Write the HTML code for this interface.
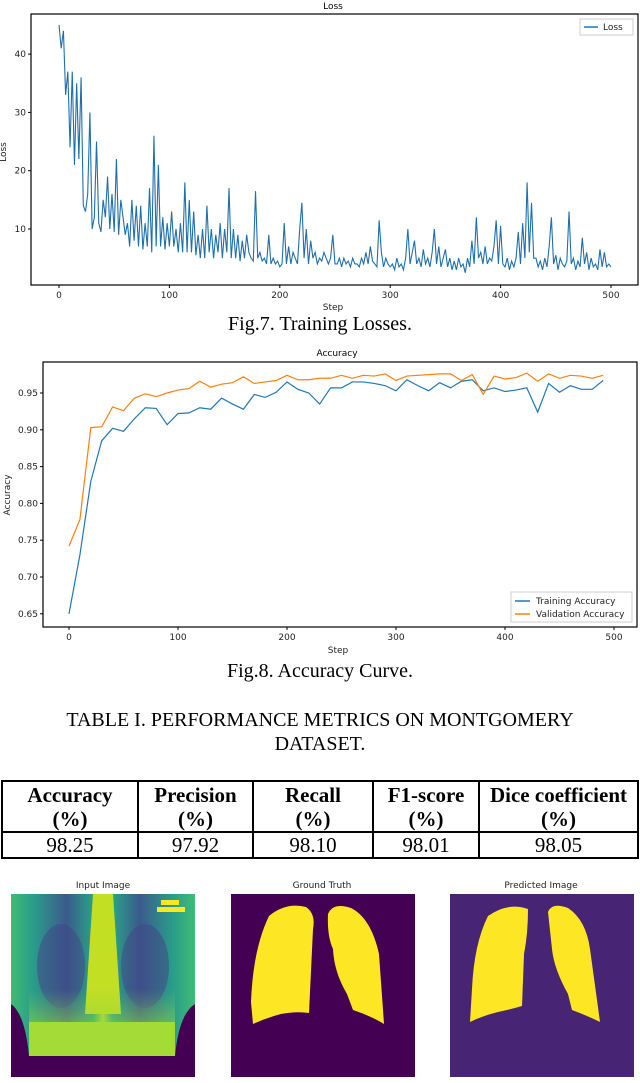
<!DOCTYPE html>
<html><head><meta charset="utf-8"><style>
body{margin:0;background:#fff;width:640px;height:1083px;overflow:hidden;position:relative;font-family:"DejaVu Sans","Liberation Sans",sans-serif}
.cap{position:absolute;left:0;width:640px;text-align:center;font-family:"Liberation Serif",serif;font-size:20px;color:#000}
table{position:absolute;left:1px;top:780px;width:638px;border-collapse:collapse;font-family:"Liberation Serif",serif;font-size:21px;text-align:center}
td,th{border:2px solid #000;padding:0;line-height:24px}
th{font-weight:bold}
.it{position:absolute;font-size:9px;color:#222;text-align:center;width:184px}
</style></head><body>
<svg id="loss" width="640" height="320" style="position:absolute;left:0;top:0"></svg>
<div class="cap" style="top:313px">Fig.7. Training Losses.</div>
<svg id="acc" width="640" height="320" style="position:absolute;left:0;top:340px"></svg>
<div class="cap" style="top:660px">Fig.8. Accuracy Curve.</div>
<div class="cap" style="top:708px;line-height:24px">TABLE I. PERFORMANCE METRICS ON MONTGOMERY<br>DATASET.</div>
<table>
<tr style="height:51px"><th style="width:134px">Accuracy<br>(%)</th><th style="width:113px">Precision<br>(%)</th><th style="width:118px">Recall<br>(%)</th><th style="width:104px">F1-score<br>(%)</th><th>Dice coefficient<br>(%)</th></tr>
<tr style="height:25px"><td>98.25</td><td>97.92</td><td>98.10</td><td>98.01</td><td>98.05</td></tr>
</table>
<div class="it" style="left:11px;top:881px">Input Image</div>
<div class="it" style="left:230px;top:881px">Ground Truth</div>
<div class="it" style="left:449px;top:881px">Predicted Image</div>
<svg width="184" height="183" style="position:absolute;left:11px;top:894px">
<defs>
<linearGradient id="g1" x1="0" x2="1"><stop offset="0" stop-color="#3fbc73"/><stop offset=".12" stop-color="#2a9d8a"/><stop offset=".3" stop-color="#3b5a8c"/><stop offset=".45" stop-color="#29a386"/><stop offset=".5" stop-color="#b5de2b"/><stop offset=".55" stop-color="#29a386"/><stop offset=".7" stop-color="#3b5a8c"/><stop offset=".88" stop-color="#2a9d8a"/><stop offset="1" stop-color="#3fbc73"/></linearGradient>
<linearGradient id="g2" x1="0" y1="0" x2="0" y2="1"><stop offset="0" stop-color="#7ad151" stop-opacity="0"/><stop offset="1" stop-color="#b5de2b"/></linearGradient>
</defs>
<rect width="184" height="183" fill="#440154"/>
<path d="M0 0H184V110Q168 120 164 162H18Q14 120 0 110Z" fill="url(#g1)"/>
<ellipse cx="50" cy="72" rx="24" ry="42" fill="#414487" opacity=".5"/>
<ellipse cx="134" cy="72" rx="24" ry="42" fill="#414487" opacity=".5"/>
<path d="M82 0H102L110 120H74Z" fill="#c2df23"/>
<rect x="18" y="95" width="146" height="67" fill="url(#g2)"/>
<rect x="18" y="128" width="146" height="34" fill="#a5db36"/>
<rect x="150" y="6" width="18" height="5" fill="#fde725"/>
<rect x="146" y="13" width="28" height="5" fill="#fde725"/>
</svg>
<svg width="184" height="183" style="position:absolute;left:231px;top:894px">
<rect width="184" height="183" fill="#440154"/>
<path d="M38 22Q55 8 75 13Q85 20 82 35L78 119Q65 117 50 120Q35 124 22 130L20 108Q22 55 38 22Z" fill="#fde725"/>
<path d="M97 20Q102 8 120 14Q140 24 148 60L153 130Q140 122 122 116L116 100Q103 78 102 55Q96 42 97 20Z" fill="#fde725"/>
</svg>
<svg width="184" height="183" style="position:absolute;left:450px;top:894px">
<rect width="184" height="183" fill="#482475"/>
<path d="M38 22Q58 8 78 15Q78 40 74 60L72 112Q62 115 48 118Q32 122 20 128L22 95Q24 50 38 22Z" fill="#fde725"/>
<path d="M98 18Q102 8 118 14Q136 26 140 55L150 128Q138 122 122 116L118 100Q104 75 102 55Z" fill="#fde725"/>
</svg>
<script>
const NS='http://www.w3.org/2000/svg';
function mk(p,t,a){const e=document.createElementNS(NS,t);for(const k in a)e.setAttribute(k,a[k]);p.appendChild(e);return e;}
// ---- Loss data (one value every 2 steps, 0..500) ----
const lossValues=[45,41,44,33,37,24,37,21,35,22,36,14,13,16,30,10,12,25,11,9.5,15,12,19,10,16,9.5,
22,9,15,12,9,11,7,15,8,14,7,14,6.5,11,7,17,6,26,7,21,7,12,6.5,11,7,
13,7,10,6,11,6,18,6,15,6,13,5.5,9,5,10,5,14,6,10,5,9,6,11,5,10,
6,17,5,10,5,9,4.5,8,5,9,6,5,4.5,16.5,5,6,4.5,5,4,9,4,5,4,4.5,3.5,
4,11,4,7,4,6,5,4,10,14.5,5,10,4,8,5,6,4,5,4.5,6,5,4,5,9,4,
4,5,3.5,5,4,4.5,3.5,5,4,4,3.5,5,4,6,4,7,4.5,4,3.5,11.5,6,3.5,5,4,3.5,
4,3,5,3.5,4,3,5,10,4,6,8,4,5,3.5,6.5,4,5,3.5,6,10,4,7,3.5,5,6.5,
3.5,5,3,4.5,3,5,3.5,4,2.5,5,3.5,8,4,12,5,6,4,7,4,5,4.5,7,11.5,4,10.5,
4,3.5,5,3,4.5,3.5,5,9.5,4,11,5,18,6,14.5,5,5,3.5,4.5,3,5,3.5,7,12,4,5.5,
3,5,4,3.5,4.5,13,4,5,3,4.5,3.5,8.5,4,6,3,5,3.5,4,3,6.5,3.5,6,3.5,4,3.5];
const lossStepSize=2;
const lossXTicks=[0,100,200,300,400,500];
const lossYTicks=[10,20,30,40];
// ---- Accuracy data ----
const accSteps=[0,10,20,30,40,50,60,70,80,90,100,110,120,130,140,150,160,170,180,190,200,210,220,230,240,250,260,270,280,290,300,310,320,330,340,350,360,370,380,390,400,410,420,430,440,450,460,470,480,490];
const trainAcc=[.65,.73,.83,.885,.902,.898,.915,.93,.929,.907,.922,.923,.93,.928,.943,.935,.928,.948,.944,.951,.965,.955,.95,.935,.957,.957,.965,.965,.963,.96,.953,.968,.96,.953,.964,.957,.966,.968,.953,.957,.952,.954,.957,.924,.963,.951,.96,.955,.955,.967];
const valAcc=[.742,.778,.903,.904,.931,.926,.943,.949,.945,.95,.954,.956,.966,.958,.962,.964,.972,.963,.965,.967,.974,.968,.968,.97,.97,.974,.97,.974,.973,.976,.967,.973,.974,.975,.976,.976,.967,.975,.948,.973,.969,.971,.977,.966,.976,.97,.974,.973,.97,.974];
const accXTicks=[0,100,200,300,400,500];
const accYTicks=[.65,.70,.75,.80,.85,.90,.95];

function txt(p,x,y,s,o){const t=mk(p,'text',Object.assign({x:x,y:y,'font-size':9,fill:'#222','font-family':'DejaVu Sans, sans-serif'},o||{}));t.textContent=s;return t;}

// Loss chart
(function(){
const s=document.getElementById('loss');
const X=v=>59+v*(611-59)/500, Y=v=>229-(v-10)*5.83;
mk(s,'rect',{x:31,y:14,width:607,height:271,fill:'none',stroke:'#000','stroke-width':1.2});
lossXTicks.forEach(t=>{mk(s,'line',{x1:X(t),x2:X(t),y1:285,y2:288,stroke:'#000'});txt(s,X(t),298,t,{'text-anchor':'middle'});});
lossYTicks.forEach(t=>{mk(s,'line',{x1:28,x2:31,y1:Y(t),y2:Y(t),stroke:'#000'});txt(s,26,Y(t)+3,t,{'text-anchor':'end'});});
const tt=txt(s,333,9,'Loss',{'text-anchor':'middle',fill:'#000'});
txt(s,333,310,'Step',{'text-anchor':'middle'});
txt(s,6,152,'Loss',{'text-anchor':'middle',transform:'rotate(-90 6 152)'});
const pts=lossValues.map((v,i)=>X(i*lossStepSize)+','+Y(v)).join(' ');
const pl=mk(s,'polyline',{points:pts,fill:'none',stroke:'#1f6fad','stroke-width':1.1});


const lg=mk(s,'g',{});


mk(lg,'rect',{x:580,y:19,width:53,height:16,fill:'#fff',stroke:'#ccc'});
mk(lg,'line',{x1:584,x2:598,y1:27,y2:27,stroke:'#1f77b4','stroke-width':1.5});
txt(lg,603,30,'Loss');
})();

// Accuracy chart
(function(){
const s=document.getElementById('acc');
const X=v=>69+v*(614-69)/500, Y=v=>53-(v-.95)*736;
mk(s,'rect',{x:43,y:22,width:594,height:265,fill:'none',stroke:'#000','stroke-width':1.2});
accXTicks.forEach(t=>{mk(s,'line',{x1:X(t),x2:X(t),y1:287,y2:290,stroke:'#000'});txt(s,X(t),300,t,{'text-anchor':'middle'});});
accYTicks.forEach(t=>{mk(s,'line',{x1:40,x2:43,y1:Y(t),y2:Y(t),stroke:'#000'});txt(s,38,Y(t)+3,t.toFixed(2),{'text-anchor':'end'});});
txt(s,337,16,'Accuracy',{'text-anchor':'middle',fill:'#000'});
txt(s,338,313,'Step',{'text-anchor':'middle'});
txt(s,10,155,'Accuracy',{'text-anchor':'middle',transform:'rotate(-90 10 155)'});
const p1=mk(s,'polyline',{points:accSteps.map((st,i)=>X(st)+','+Y(trainAcc[i])).join(' '),fill:'none',stroke:'#1f77b4','stroke-width':1.2});


const p2=mk(s,'polyline',{points:accSteps.map((st,i)=>X(st)+','+Y(valAcc[i])).join(' '),fill:'none',stroke:'#ff7f0e','stroke-width':1.2});


const lg=mk(s,'g',{});


mk(lg,'rect',{x:511,y:252,width:121,height:30,fill:'#fff',stroke:'#ccc'});
mk(lg,'line',{x1:515,x2:530,y1:261,y2:261,stroke:'#1f77b4','stroke-width':1.5});
txt(lg,536,264,'Training Accuracy');
mk(lg,'line',{x1:515,x2:530,y1:274,y2:274,stroke:'#ff7f0e','stroke-width':1.5});
txt(lg,536,277,'Validation Accuracy');
})();
</script>
</body></html>
